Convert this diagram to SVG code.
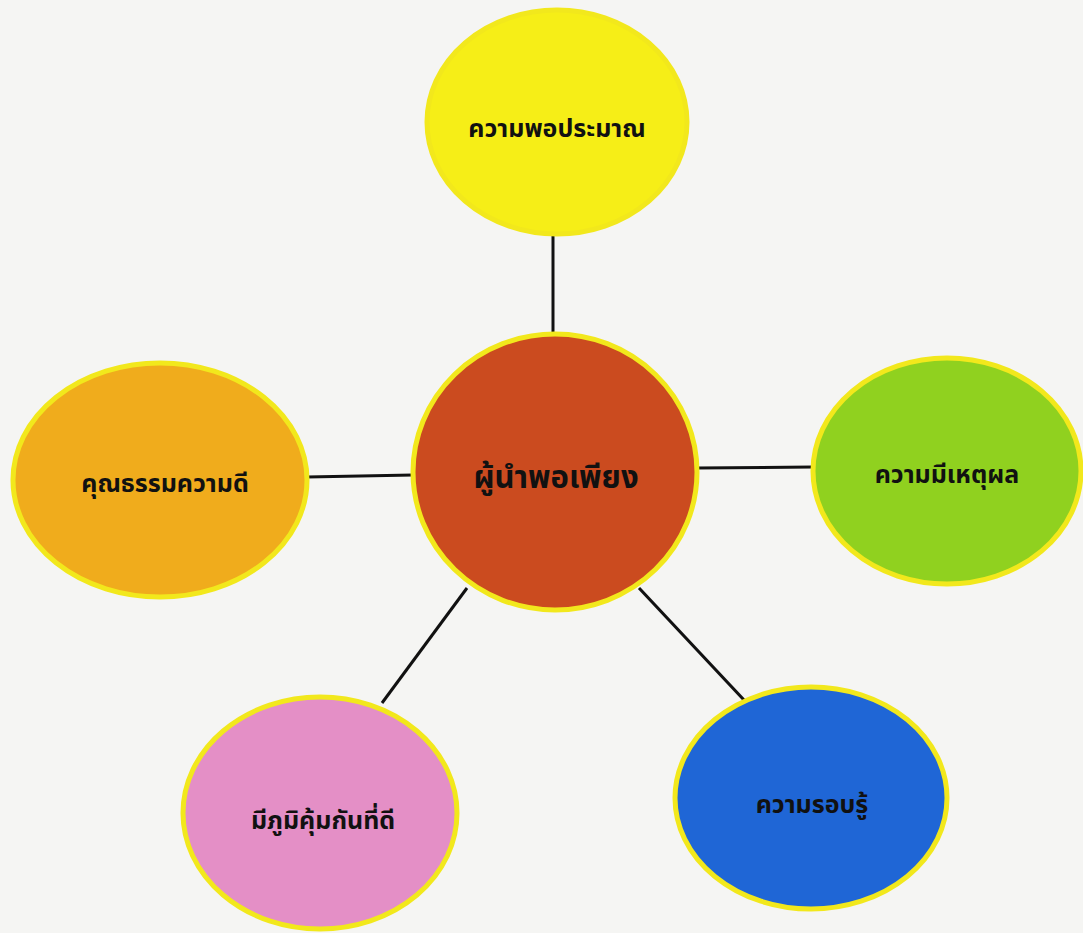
<svg xmlns="http://www.w3.org/2000/svg" width="1083" height="933" viewBox="0 0 1083 933">
<style>
.n{stroke:#f2e81c;stroke-width:5}
.t{font-family:"Noto Sans Thai","Noto Sans","DejaVu Sans",sans-serif;font-weight:bold;font-size:25px;fill:#111;text-anchor:middle;dominant-baseline:middle}
.c{stroke:#111;stroke-width:3;fill:none}
</style>
<rect width="1083" height="933" fill="#f5f5f3"/>
<g id="connectors">
<line class="c" x1="553" y1="233" x2="553" y2="336"/>
<line class="c" x1="307" y1="477" x2="413" y2="475"/>
<line class="c" x1="697" y1="468" x2="813" y2="467"/>
<line class="c" x1="467" y1="588" x2="382" y2="703"/>
<line class="c" x1="639" y1="588" x2="744" y2="700"/>
</g>
<g id="top">
<ellipse class="n" cx="557" cy="122" rx="130" ry="112" fill="#f6ee17"/>
<text class="t" x="557" y="130">ความพอประมาณ</text>
</g>
<g id="left">
<ellipse class="n" cx="160" cy="480" rx="147" ry="117" fill="#f0ac1c"/>
<text class="t" x="165" y="485">คุณธรรมความดี</text>
</g>
<g id="right">
<ellipse class="n" cx="947" cy="471" rx="134" ry="113" fill="#90d11f"/>
<text class="t" x="947" y="476">ความมีเหตุผล</text>
</g>
<g id="bottomleft">
<ellipse class="n" cx="320" cy="813" rx="137" ry="116" fill="#e48fc6"/>
<text class="t" x="323" y="822">มีภูมิคุ้มกันที่ดี</text>
</g>
<g id="bottomright">
<ellipse class="n" cx="811" cy="798" rx="136" ry="111" fill="#1f66d6"/>
<text class="t" x="812" y="806">ความรอบรู้</text>
</g>
<g id="center">
<ellipse class="n" cx="555" cy="472" rx="142" ry="138" fill="#cb4b1f"/>
<text class="t" x="556" y="479" style="font-size:31px">ผู้นำพอเพียง</text>
</g>
</svg>
